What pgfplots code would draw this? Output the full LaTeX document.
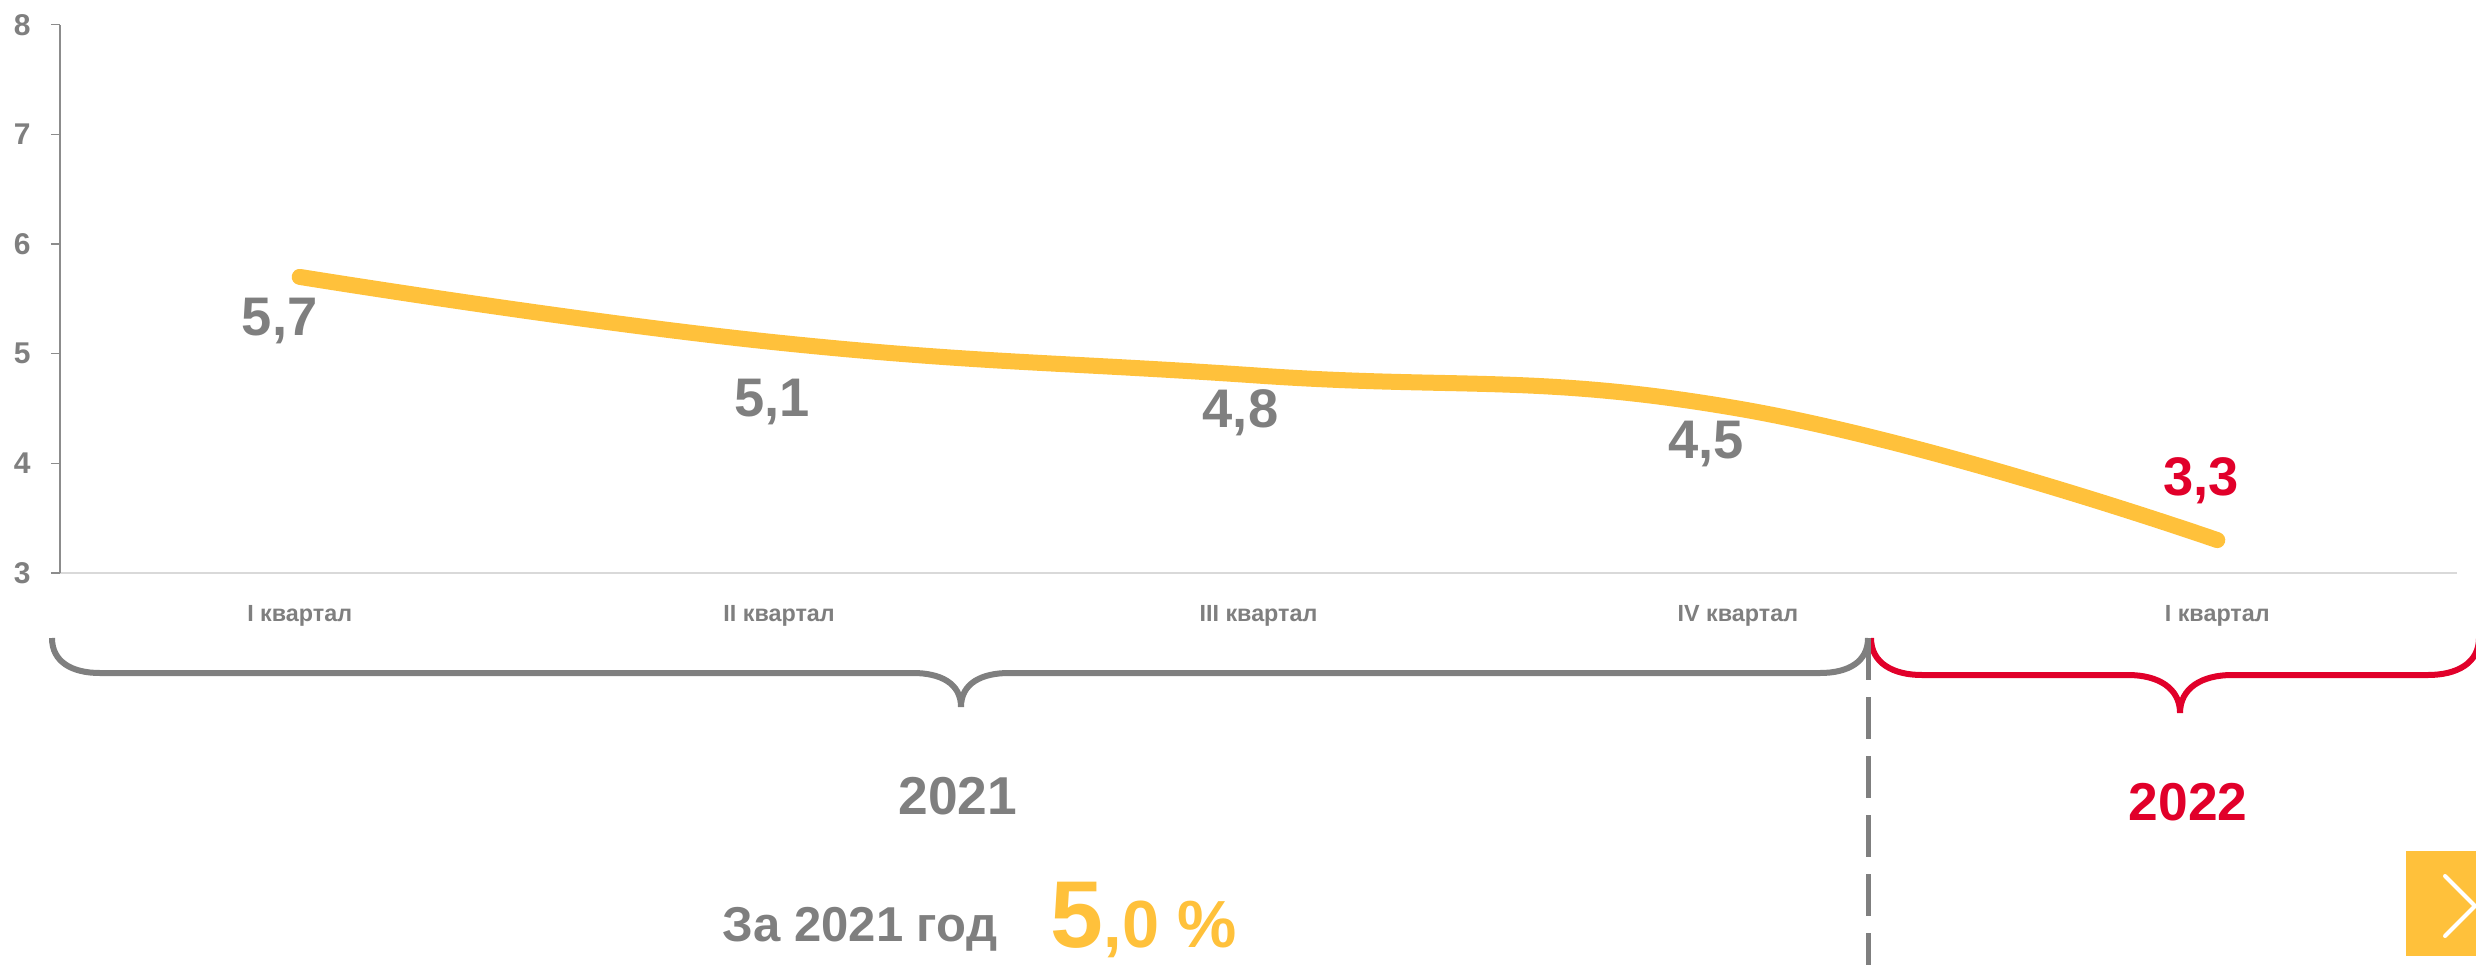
\documentclass[border=0pt]{standalone}
\usepackage{fontspec}
\setmainfont{Liberation Sans}
\usepackage{pgfplots}
\usepackage{pgfplotstable}
\pgfplotsset{compat=1.18}

\definecolor{txtgrey}{HTML}{7F7F7F}
\definecolor{lineyellow}{HTML}{FFC13B}
\definecolor{accentred}{HTML}{E1002A}
\definecolor{yaxisgrey}{HTML}{8C8C8C}
\definecolor{xaxisgrey}{HTML}{D9D9D9}

% quarterly values
\pgfplotstableread{
q val
0 5.7
1 5.1
2 4.8
3 4.5
4 3.3
}\ratetable

\begin{document}
\begin{tikzpicture}[x=0.3pt,y=-0.3pt]
\useasboundingbox (0,0) rectangle (2476,965);
\begin{axis}[
  at={(18pt,-171.9pt)}, anchor=south west,
  scale only axis, width=719.1pt, height=164.5pt,
  xmin=-0.5, xmax=4.5, ymin=3, ymax=8,
  clip=false,
  axis x line=bottom, axis y line=left,
  x axis line style={-, draw=xaxisgrey, line width=0.45pt},
  y axis line style={-, draw=yaxisgrey, line width=0.4pt},
  xtick={0,...,4},
  xticklabels={I квартал, II квартал, III квартал, IV квартал, I квартал},
  xtick style={draw=none},
  ytick={3,...,8},
  tick align=outside, major tick length=2.7pt,
  ytick style={draw=yaxisgrey, line width=0.4pt},
  /pgf/number format/assume math mode=true,
  xticklabel style={font=\fontsize{7}{8}\selectfont\bfseries, text=txtgrey, yshift=-3.6pt},
  yticklabel style={font=\fontsize{9}{10}\selectfont\bfseries, text=txtgrey, xshift=-2.6pt},
]
\addplot[lineyellow, line width=4.8pt, line cap=round, smooth, tension=0.75, no marks] table[x=q, y=val] {\ratetable};

\begin{scope}[font=\fontsize{16.3}{18}\selectfont\bfseries]
\node[txtgrey, xshift=-6pt, yshift=-13.2pt] at (axis cs:0,5.7) {5,7};
\node[txtgrey, xshift=-2.1pt, yshift=-17.7pt] at (axis cs:1,5.1) {5,1};
\node[txtgrey, xshift=-5.4pt, yshift=-11.1pt] at (axis cs:2,4.8) {4,8};
\node[txtgrey, xshift=-9.6pt, yshift=-10.8pt] at (axis cs:3,4.5) {4,5};
\node[accentred, xshift=-4.8pt, yshift=17.7pt] at (axis cs:4,3.3) {3,3};
\end{scope}
\end{axis}

% year braces
\draw[txtgrey, line width=1.8pt]
  (52,638) .. controls (52,662) and (72,673) .. (100,673) -- (913,673)
  .. controls (940,673) and (961,683) .. (961,707)
  .. controls (961,683) and (982,673) .. (1009,673) -- (1820,673)
  .. controls (1848,673) and (1868,662) .. (1868,638);
\draw[accentred, line width=1.8pt]
  (1871,638) .. controls (1871,663) and (1893,675) .. (1922,675) -- (2128,675)
  .. controls (2158,675) and (2180,688) .. (2180,713)
  .. controls (2180,688) and (2202,675) .. (2232,675) -- (2428,675)
  .. controls (2457,675) and (2479,663) .. (2479,638);
\draw[txtgrey, line width=1.5pt, dash pattern=on 12.6pt off 5.1pt] (1868,638) -- (1868,970);

\node[txtgrey, font=\fontsize{16}{18}\selectfont\bfseries] at (958,796) {2021};
\node[accentred, font=\fontsize{16}{18}\selectfont\bfseries] at (2188,802) {2022};
\node[txtgrey, font=\fontsize{14.7}{16}\selectfont\bfseries, anchor=base, inner sep=0pt] at (860,941) {За 2021 год};
\node[lineyellow, font=\bfseries, anchor=base west, inner sep=0pt] at (1050,947)
  {{\fontsize{28.5}{30}\selectfont 5}{\fontsize{20}{22}\selectfont ,0 \%}};

% next-slide button
\fill[lineyellow] (2406,851) rectangle (2490,956);
\draw[white, line width=1.2pt, line cap=round, line join=round] (2445,876) -- (2475,906) -- (2445,936);
\end{tikzpicture}
\end{document}
